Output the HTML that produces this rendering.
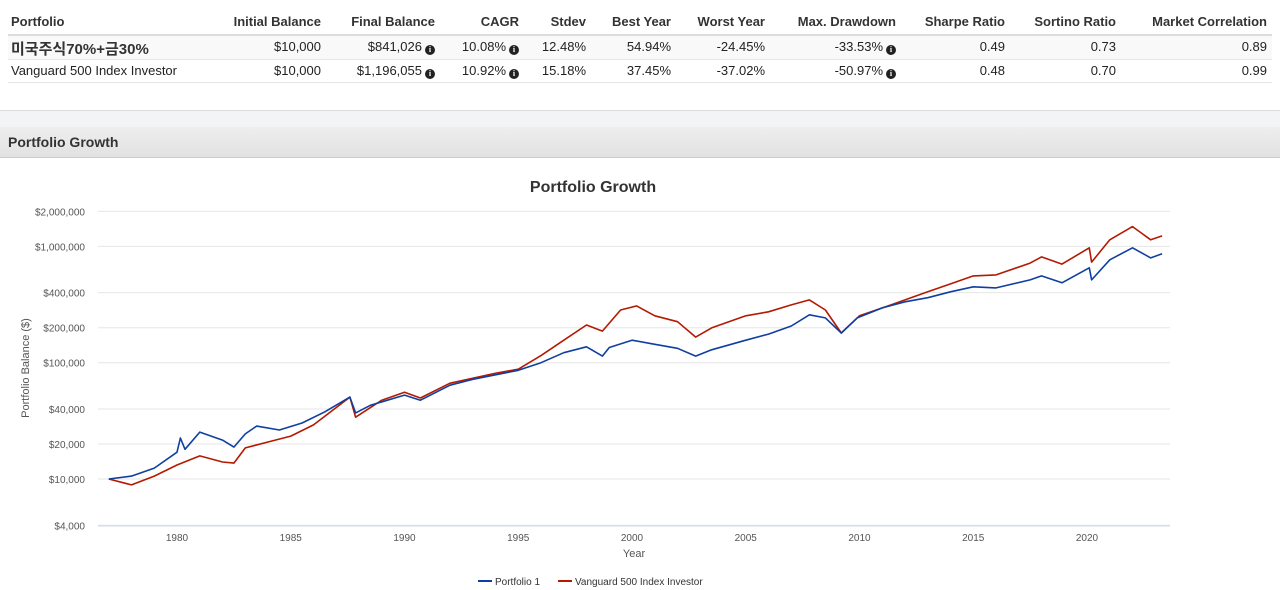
<!DOCTYPE html>
<html><head><meta charset="utf-8">
<style>
body{margin:0;width:1280px;height:590px;background:#fff;font-family:"Liberation Sans","Noto Sans CJK KR",sans-serif;color:#222;overflow:hidden;position:relative}
.c{position:absolute;font-size:13px;white-space:nowrap}
.r{text-align:right}
.h{font-weight:bold;color:#333}
.i{display:inline-block;width:10px;height:10px;border-radius:50%;background:#222;color:#fff;font-size:8px;line-height:10px;text-align:center;font-weight:bold;font-family:"Liberation Serif",serif;vertical-align:-1px;margin-left:3px}
</style></head><body>
<div>
<div style="position:absolute;left:8px;top:34px;width:1264px;height:2px;background:#ddd"></div>
<div style="position:absolute;left:8px;top:36px;width:1264px;height:23px;background:#f9f9f9;border-bottom:1px solid #e6e6e6"></div>
<div style="position:absolute;left:8px;top:60px;width:1264px;height:22px;border-bottom:1px solid #e6e6e6"></div>
</div>
<div id="tbl"></div>
<div style="position:absolute;left:0;top:110px;width:1280px;height:16px;background:#f3f4f5;border-top:1px solid #ddd;border-bottom:1px solid #ddd"></div>
<div style="position:absolute;left:0;top:127px;width:1280px;height:30px;background:linear-gradient(#eee,#e2e2e2);border-bottom:1px solid #ccc"></div>
<div class="c h" style="left:8px;top:133px;font-size:14px;line-height:18px">Portfolio Growth</div>
<svg id="ch" width="1280" height="590" style="position:absolute;left:0;top:0" font-family="Liberation Sans, sans-serif"></svg>
<script>
const cols=[["Portfolio",11,"l"],["Initial Balance",321],["Final Balance",435],["CAGR",519],["Stdev",586],["Best Year",671],["Worst Year",765],["Max. Drawdown",896],["Sharpe Ratio",1005],["Sortino Ratio",1116],["Market Correlation",1267]];
const rowsData=[["미국주식70%+금30%","$10,000","$841,026*","10.08%*","12.48%","54.94%","-24.45%","-33.53%*","0.49","0.73","0.89"],
["Vanguard 500 Index Investor","$10,000","$1,196,055*","10.92%*","15.18%","37.45%","-37.02%","-50.97%*","0.48","0.70","0.99"]];
const tbl=document.getElementById('tbl');
function cell(txt,col,y,cls,name){
  const d=document.createElement('div');
  
  
  d.className='c '+cls;
  let t=txt, ic=false; if(t.endsWith('*')){t=t.slice(0,-1);ic=true;}
  d.innerHTML=t+(ic?'<span class="i">i</span>':'');
  d.style.top=y+'px';
  if(col[2]==='l'){d.style.left=col[1]+'px';}else{d.style.right=(1280-col[1])+'px';}
  tbl.appendChild(d);
}
cols.forEach((c,k)=>cell(c[0],c,14,'h','header-'+k));
rowsData.forEach((r,ri)=>r.forEach((v,k)=>{
  const y=ri?63:39;
  cell(v,cols[k],ri===0&&k===0?38:y,ri===0&&k===0?'h':'', 'cell-'+ri+'-'+k);
}));
tbl.children[11].style.fontSize='15px';

const blueX=[1977,1978,1979,1980,1980.15,1980.35,1981,1982,1982.5,1983,1983.5,1984.5,1985.5,1986.5,1987.6,1987.85,1988.5,1990,1990.7,1992,1993,1995,1996,1997,1998,1998.7,1999,2000,2001,2002,2002.8,2003.5,2005,2006,2007,2007.8,2008.5,2009.2,2009.9,2011,2012,2013,2014,2015,2016,2017.5,2018,2018.9,2020.1,2020.2,2021,2022,2022.8,2023.3];
const blueV=[10000,10600,12400,17000,22500,18000,25300,21600,18800,24400,28500,26400,30300,37800,50600,37000,43000,52600,47600,64000,72000,86000,100000,122000,137000,114000,135000,156000,144000,133000,114000,129000,156000,176000,207000,258000,243000,180000,243000,296000,334000,362000,407000,449000,440000,515000,558000,486000,654000,515000,767000,973000,797000,863000];
const redX=[1977,1978,1979,1980,1981,1982,1982.5,1983,1984,1985,1986,1987.6,1987.85,1989,1990,1990.7,1992,1994,1995,1996,1997,1998,1998.7,1999.5,2000.2,2001,2002,2002.8,2003.5,2005,2006,2007,2007.8,2008.5,2009.2,2010,2011,2012,2013,2014,2015,2016,2017.5,2018,2018.9,2020.1,2020.2,2021,2022,2022.8,2023.3];
const redV=[10000,8900,10600,13200,15800,14000,13700,18500,20800,23400,29200,50600,34000,47600,55800,49700,66700,81000,88000,115000,156000,211000,187000,284000,308000,253000,225000,166000,199000,253000,274000,314000,347000,284000,180000,253000,296000,347000,407000,476000,558000,569000,719000,812000,705000,973000,733000,1140000,1480000,1140000,1230000];
const yTicks=[2000000,1000000,400000,200000,100000,40000,20000,10000,4000];
const xTicks=[1980,1985,1990,1995,2000,2005,2010,2015,2020];

const X=y=>177+(y-1980)*22.75;
const Y=v=>479-(Math.log10(v)-4)*116.3;
const svg=document.getElementById('ch');
const NS='http://www.w3.org/2000/svg';
function mk(tag,attrs,txt){const e=document.createElementNS(NS,tag);for(const k in attrs)e.setAttribute(k,attrs[k]);if(txt!==undefined)e.textContent=txt;svg.appendChild(e);return e;}
let e=mk('text',{x:593,y:192,'text-anchor':'middle','font-size':16,'font-weight':'bold',fill:'#333'},'Portfolio Growth');


yTicks.forEach(v=>{
  let g=mk('line',{x1:98,x2:1170,y1:Y(v),y2:Y(v),stroke:'#e6e6e6','stroke-width':1});
  
  
  let t=mk('text',{x:85,y:Y(v)+4,'text-anchor':'end','font-size':10,fill:'#555'},'$'+v.toLocaleString('en-US'));
  
  
});
e=mk('line',{x1:98,x2:1170,y1:526,y2:526,stroke:'#ccd6eb'});


xTicks.forEach(y=>{
  let t=mk('text',{x:X(y),y:541,'text-anchor':'middle','font-size':10,fill:'#555'},String(y));
  
  
});
e=mk('text',{x:634,y:557,'text-anchor':'middle','font-size':11,fill:'#555'},'Year');


e=mk('text',{x:0,y:0,'text-anchor':'middle','font-size':11,fill:'#555',transform:'translate(29,368) rotate(-90)'},'Portfolio Balance ($)');


function line(xs,vs,color,name){
  const d=xs.map((x,i)=>(i?'L':'M')+X(x).toFixed(1)+','+Y(vs[i]).toFixed(1)).join('');
  const p=mk('path',{d:d,fill:'none',stroke:color,'stroke-width':1.6,'stroke-linejoin':'round'});
  
  
}
line(redX,redV,'#b31a00','series-vanguard');
line(blueX,blueV,'#0f3fa0','series-portfolio-1');
[[478,'#0f3fa0','Portfolio 1','legend-portfolio-1'],[558,'#b31a00','Vanguard 500 Index Investor','legend-vanguard']].forEach(l=>{
  const g=mk('g',{});
  
  
  const ln=document.createElementNS(NS,'line');ln.setAttribute('x1',l[0]);ln.setAttribute('x2',l[0]+14);ln.setAttribute('y1',581);ln.setAttribute('y2',581);ln.setAttribute('stroke',l[1]);ln.setAttribute('stroke-width',2);g.appendChild(ln);
  const t=document.createElementNS(NS,'text');t.setAttribute('x',l[0]+17);t.setAttribute('y',585);t.setAttribute('font-size',10);t.setAttribute('fill','#333');t.textContent=l[2];g.appendChild(t);
});
</script>
</body></html>
